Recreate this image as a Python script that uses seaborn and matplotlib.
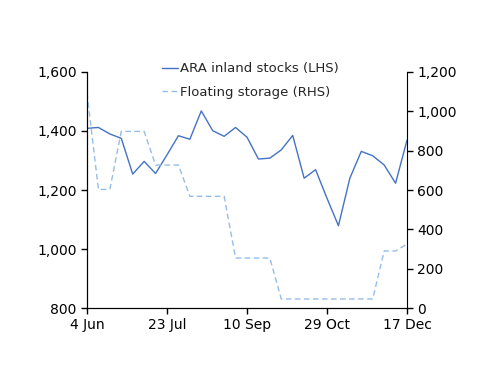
import matplotlib
matplotlib.use("Agg")
import matplotlib.pyplot as plt
import pandas as pd
import seaborn as sns

# weekly data, 4 Jun - 17 Dec
dates = pd.date_range("2018-06-04", periods=29, freq="7D")
ara_stocks = [1409, 1412, 1390, 1375, 1254, 1297, 1256, 1319, 1384, 1372,
              1468, 1401, 1382, 1412, 1379, 1305, 1308, 1336, 1385, 1240,
              1269, 1172, 1079, 1240, 1331, 1316, 1285, 1223, 1369]
floating = [1092, 603, 603, 898, 898, 898, 727, 727, 727, 568,
            568, 568, 568, 254, 254, 254, 254, 46, 46, 46,
            46, 46, 46, 46, 46, 46, 290, 290, 325]
tick_dates = ["2018-06-04", "2018-07-23", "2018-09-10", "2018-10-29", "2018-12-17"]
tick_labels = ["4 Jun", "23 Jul", "10 Sep", "29 Oct", "17 Dec"]

df = pd.DataFrame({"date": dates, "ara": ara_stocks, "floating": floating})

sns.set_style("ticks")
plt.rcParams["font.family"] = ["DejaVu Sans"]
plt.rcParams["font.size"] = 10

fig = plt.figure(figsize=(5, 3.86), dpi=100)
ax = fig.add_axes([0.174, 0.202, 0.64, 0.6115])
ax2 = ax.twinx()

sns.lineplot(data=df, x="date", y="ara", ax=ax, color="#4472C4", linewidth=1,
             label="ARA inland stocks (LHS)", legend=False)
sns.lineplot(data=df, x="date", y="floating", ax=ax2, color="#95BDE8", linewidth=1,
             linestyle=(0, (4, 2.5)), label="Floating storage (RHS)", legend=False)

ax.set_ylim(800, 1600)
ax.set_yticks(range(800, 1601, 200))
ax.set_yticklabels([f"{v:,}" for v in range(800, 1601, 200)])
ax2.set_ylim(0, 1200)
ax2.set_yticks(range(0, 1201, 200))
ax2.set_yticklabels([f"{v:,}" for v in range(0, 1201, 200)])

ax.set_xlim(dates[0], dates[-1])
ax.set_xticks(pd.to_datetime(tick_dates))
ax.set_xticklabels(tick_labels)

for a in (ax, ax2):
    a.set_xlabel("")
    a.set_ylabel("")
    a.spines["top"].set_visible(False)
    a.tick_params(direction="out", length=4, width=1, colors="black", labelsize=10)
    for s in a.spines.values():
        s.set_color("black")
ax.spines["right"].set_visible(False)

h1, l1 = ax.get_legend_handles_labels()
h2, l2 = ax2.get_legend_handles_labels()
fig.legend(h1 + h2, l1 + l2, loc="upper left", bbox_to_anchor=(0.30, 0.869),
           frameon=False, handlelength=1.2, handletextpad=0.2, labelspacing=0.8,
           fontsize=9.5)

fig.savefig("out.png", dpi=100)
